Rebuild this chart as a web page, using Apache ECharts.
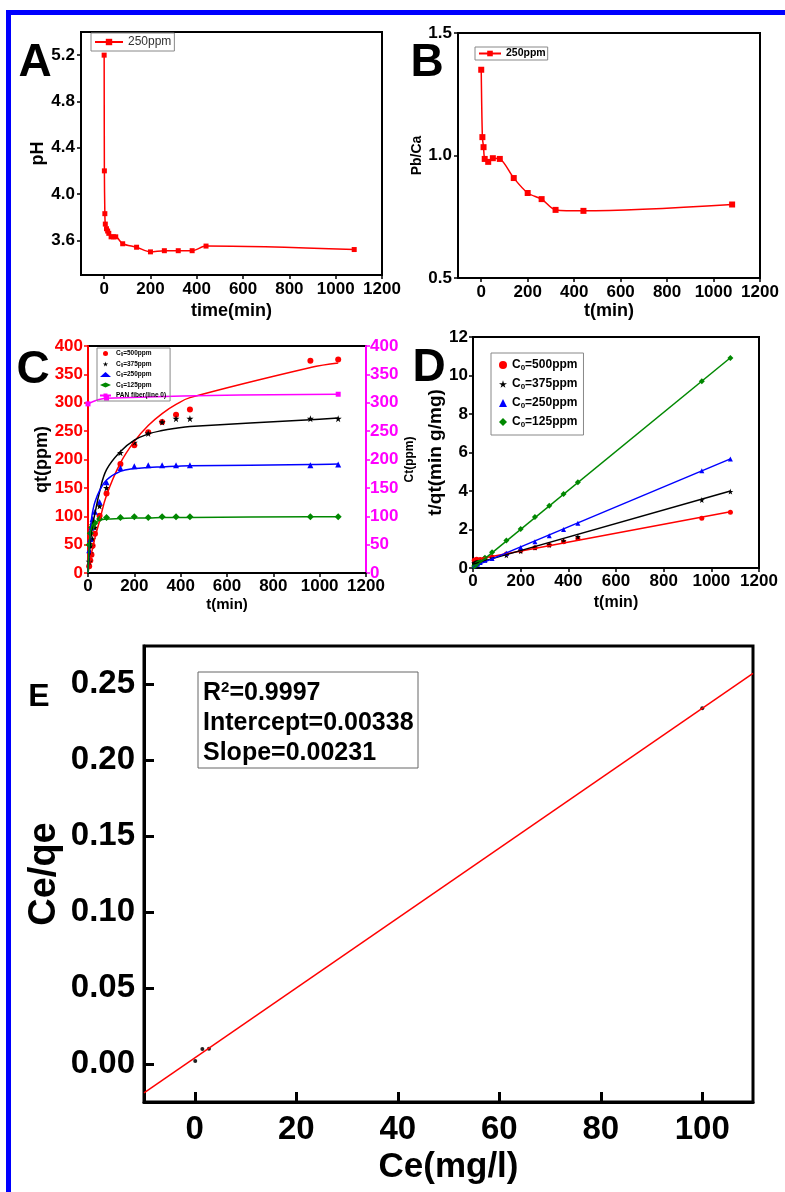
<!DOCTYPE html>
<html>
<head>
<meta charset="utf-8">
<title>Kinetics panels</title>
<script src="https://cdn.jsdelivr.net/npm/echarts@6/dist/echarts.min.js"></script>
<style>
  html, body { margin: 0; padding: 0; background: #fff; }
  #main { width: 785px; height: 1192px; }
</style>
</head>
<body>
<div id="main"></div>
<script>
var FONT = '"Liberation Sans", Arial, sans-serif';

// A: pH vs time
var timeA = [0, 1, 3, 5, 10, 15, 20, 30, 40, 50, 80, 140, 200, 260, 320, 380, 440, 1080];
var phA = [5.20, 4.20, 3.83, 3.74, 3.70, 3.68, 3.66, 3.63, 3.63, 3.63, 3.57, 3.54, 3.50, 3.51, 3.51, 3.51, 3.55, 3.52];

// B: Pb/Ca vs time
var timeB = [0, 5, 10, 15, 30, 50, 80, 140, 200, 260, 320, 440, 1080];
var pbCaB = [1.35, 1.075, 1.034, 0.986, 0.974, 0.989, 0.986, 0.908, 0.847, 0.822, 0.778, 0.774, 0.800];

// C: qt points, fitted curves, PAN fiber
var timeC = [5, 10, 15, 20, 30, 50, 80, 140, 200, 260, 320, 380, 440, 960, 1080];
var qt500 = [12, 22, 32, 48, 69, 101, 140, 192, 225, 248, 266, 279, 288, 374, 376];
var qt375 = [20, 35, 48, 60, 80, 118, 150, 212, 230, 246, 266, 272, 272, 272, 272];
var qt250 = [40, 60, 80, 95, 108, 125, 160, 185, 188, 190, 190, 190, 190, 190, 191];
var qt125 = [50, 70, 80, 85, 88, 95, 98, 98, 99, 98, 99, 99, 99, 99, 99];
var timeFit = [0, 5, 10, 15, 20, 30, 50, 80, 140, 200, 260, 320, 380, 440, 960, 1080];
var fit500 = [0, 12, 23, 34, 44, 62, 92, 137, 194, 232, 260, 281, 297, 309, 362, 370];
var fit375 = [0, 30, 52, 70, 85, 105, 143, 182, 214, 234, 245, 251, 255, 258, 270, 273];
var fit250 = [0, 45, 75, 95, 108, 125, 145, 164, 179, 184, 186, 187, 188, 189, 191, 192];
var fit125 = [0, 50, 70, 80, 85, 89, 93, 95, 96, 97, 97, 98, 98, 98, 99, 99];
var timePan = [0, 80, 1080];
var ctPan = [298, 308, 315];

// D: t/qt points and linear fits
var tq500 = [0.40, 0.42, 0.45, 0.42, 0.44, 0.50, 0.57, 0.73, 0.89, 1.05, 1.20, 1.37, 1.53, 2.58, 2.90];
var tq375 = [0.25, 0.29, 0.31, 0.33, 0.38, 0.42, 0.53, 0.66, 0.87, 1.06, 1.20, 1.40, 1.62, 3.53, 3.97];
var tq250 = [0.12, 0.17, 0.19, 0.21, 0.28, 0.40, 0.50, 0.76, 1.06, 1.37, 1.68, 2.00, 2.32, 5.05, 5.66];
var tq125 = [0.10, 0.14, 0.19, 0.24, 0.34, 0.53, 0.82, 1.43, 2.02, 2.65, 3.23, 3.84, 4.45, 9.70, 10.91];
var timeLin = [0, 1080];
var lin500 = [0.42, 2.92];
var lin375 = [0.20, 4.00];
var lin250 = [0.06, 5.67];
var lin125 = [-0.02, 10.92];

// E: Ce/qe vs Ce
var ceE = [0.1, 1.5, 2.8, 100];
var ceqeE = [0.002, 0.0099, 0.0100, 0.234];
var ceFit = [-10, 110];
var ceqeFit = [-0.019, 0.257];

// tick labels
var ticksTime = [0, 200, 400, 600, 800, 1000, 1200];
var ticksPH = [3.6, 4.0, 4.4, 4.8, 5.2];
var ticksCe = [0, 20, 40, 60, 80, 100];
var ticksCeqe = [0, 0.05, 0.10, 0.15, 0.20, 0.25];

function zip(a, b) {
    return a.map(function (v, i) { return [v, b[i]]; });
}

var STAR = 'path://M50,0 L61,35 L98,35 L68,57 L79,91 L50,70 L21,91 L32,57 L2,35 L39,35 Z';

function plain(v) { return String(v); }

function lbl(size, color, extra) {
    var o = { fontFamily: FONT, fontWeight: 'bold', fontSize: size, color: color || '#000' };
    for (var k in extra) o[k] = extra[k];
    return o;
}
function axLine(color, w) {
    return { show: true, onZero: false, lineStyle: { color: color || '#000', width: w || 2 } };
}
function tick(color, len, inside, w) {
    return { show: true, inside: !!inside, length: len, lineStyle: { color: color || '#000', width: w || 1.5 } };
}

var chart = echarts.init(document.getElementById('main'));

var sub = {
    t: { fontFamily: FONT, fontWeight: 'bold', fontSize: 12, color: '#000' },
    s: { fontFamily: FONT, fontWeight: 'bold', fontSize: 8, color: '#000', padding: [6, 0, 0, 0] }
};
var subSmall = {
    t: { fontFamily: FONT, fontWeight: 'bold', fontSize: 6.5, color: '#000' },
    s: { fontFamily: FONT, fontWeight: 'bold', fontSize: 4.5, color: '#000', padding: [3, 0, 0, 0] }
};
function c0fmt(name) {
    if (name.indexOf('C0') === 0) return '{t|C}{s|0}{t|' + name.slice(2) + '}';
    return '{t|' + name + '}';
}

var option = {
    animation: false,
    backgroundColor: '#fff',
    grid: [
        { left: 81, top: 32, width: 301, height: 243, show: true, borderColor: '#000', borderWidth: 2 },
        { left: 458, top: 33, width: 302, height: 245, show: true, borderColor: '#000', borderWidth: 2 },
        { left: 88, top: 346, width: 278, height: 227, show: true, borderColor: '#000', borderWidth: 2 },
        { left: 473, top: 337, width: 286, height: 231, show: true, borderColor: '#000', borderWidth: 2 },
        { left: 144, top: 646, width: 609, height: 456, show: true, borderColor: '#000', borderWidth: 3 }
    ],
    xAxis: [
        { gridIndex: 0, type: 'value', min: -100, max: 1200, name: 'time(min)', nameLocation: 'middle', nameGap: 27,
          nameTextStyle: lbl(18), axisLine: axLine(), splitLine: { show: false },
          axisTick: Object.assign(tick('#000', 4), { customValues: ticksTime }),
          axisLabel: Object.assign(lbl(17), { margin: 6, customValues: ticksTime, formatter: plain }) },
        { gridIndex: 1, type: 'value', min: -100, max: 1200, name: 't(min)', nameLocation: 'middle', nameGap: 22,
          nameTextStyle: lbl(18), axisLine: axLine(), splitLine: { show: false },
          axisTick: Object.assign(tick('#000', 4), { customValues: ticksTime }),
          axisLabel: Object.assign(lbl(17), { margin: 6, customValues: ticksTime, formatter: plain }) },
        { gridIndex: 2, type: 'value', min: 0, max: 1200, interval: 200, name: 't(min)', nameLocation: 'middle', nameGap: 24,
          nameTextStyle: lbl(15), axisLine: axLine(), splitLine: { show: false },
          axisTick: tick('#000', 4), axisLabel: Object.assign(lbl(17), { margin: 5, formatter: plain }) },
        { gridIndex: 3, type: 'value', min: 0, max: 1200, interval: 200, name: 't(min)', nameLocation: 'middle', nameGap: 27,
          nameTextStyle: lbl(16), axisLine: axLine(), splitLine: { show: false },
          axisTick: tick('#000', 4), axisLabel: Object.assign(lbl(17), { margin: 5, formatter: plain }) },
        { gridIndex: 4, type: 'value', min: -10, max: 110, name: 'Ce(mg/l)', nameLocation: 'middle', nameGap: 48,
          nameTextStyle: lbl(35), axisLine: axLine('#000', 3), splitLine: { show: false },
          axisTick: Object.assign(tick('#000', 10, true, 3), { customValues: ticksCe }),
          axisLabel: Object.assign(lbl(33), { margin: 11, customValues: ticksCe, formatter: plain }) }
    ],
    yAxis: [
        { gridIndex: 0, type: 'value', min: 3.3, max: 5.4, name: 'pH', nameLocation: 'middle', nameGap: 28,
          nameTextStyle: lbl(18), axisLine: axLine(), splitLine: { show: false },
          axisTick: Object.assign(tick('#000', 4), { customValues: ticksPH }),
          axisLabel: Object.assign(lbl(17), { margin: 6, customValues: ticksPH,
              formatter: function (v) { return v.toFixed(1); } }) },
        { gridIndex: 1, type: 'value', min: 0.5, max: 1.5, interval: 0.5, name: 'Pb/Ca', nameLocation: 'middle', nameGap: 31,
          nameTextStyle: lbl(14), axisLine: axLine(), splitLine: { show: false },
          axisTick: tick('#000', 4),
          axisLabel: Object.assign(lbl(17), { margin: 6, formatter: function (v) { return v.toFixed(1); } }) },
        { gridIndex: 2, type: 'value', min: 0, max: 400, interval: 50, name: 'qt(ppm)', nameLocation: 'middle', nameGap: 34,
          nameTextStyle: lbl(18), axisLine: axLine('#f00'), splitLine: { show: false },
          axisTick: tick('#f00', 4), axisLabel: Object.assign(lbl(17, '#f00'), { margin: 5 }) },
        { gridIndex: 2, type: 'value', position: 'right', min: 0, max: 400, interval: 50, name: 'Ct(ppm)',
          nameLocation: 'middle', nameGap: 38, nameRotate: 90,
          nameTextStyle: lbl(12), axisLine: axLine('#f0f'), splitLine: { show: false },
          axisTick: tick('#f0f', 4), axisLabel: Object.assign(lbl(17, '#f0f'), { margin: 4 }) },
        { gridIndex: 3, type: 'value', min: 0, max: 12, interval: 2, name: 't/qt(min g/mg)', nameLocation: 'middle', nameGap: 23,
          nameTextStyle: lbl(19), axisLine: axLine(), splitLine: { show: false },
          axisTick: tick('#000', 4), axisLabel: Object.assign(lbl(17), { margin: 5 }) },
        { gridIndex: 4, type: 'value', min: -0.025, max: 0.275, name: 'Ce/qe', nameLocation: 'middle', nameGap: 80,
          nameMoveOverlap: false,
          nameTextStyle: lbl(38), axisLine: axLine('#000', 3), splitLine: { show: false },
          axisTick: Object.assign(tick('#000', 10, true, 3), { customValues: ticksCeqe }),
          axisLabel: Object.assign(lbl(33), { margin: 9, customValues: ticksCeqe,
              formatter: function (v) { return v.toFixed(2); } }) }
    ],
    legend: [
        { data: ['250ppm'], left: 91, top: 33, padding: [3, 3, 3, 3], itemWidth: 28, itemHeight: 8,
          borderColor: '#888', borderWidth: 1, textStyle: { fontFamily: FONT, fontSize: 12, color: '#333' } },
        { data: ['250ppm'], left: 475, top: 47, padding: [1, 2, 1, 3], itemWidth: 22, itemHeight: 7,
          borderColor: '#888', borderWidth: 1, textStyle: lbl(10.5) },
        { data: ['C0=500ppm', 'C0=375ppm', 'C0=250ppm', 'C0=125ppm', 'PAN fiber(line 0)'], orient: 'vertical',
          left: 97, top: 348, padding: [2, 4, 2, 2], itemWidth: 11, itemHeight: 5, itemGap: 3,
          borderColor: '#888', borderWidth: 1, formatter: c0fmt, textStyle: { rich: subSmall } },
        { data: ['C0=500ppm', 'C0=375ppm', 'C0=250ppm', 'C0=125ppm'], orient: 'vertical',
          left: 491, top: 353, padding: [6, 6, 6, 8], itemWidth: 8, itemHeight: 8, itemGap: 6,
          borderColor: '#888', borderWidth: 1, formatter: c0fmt, textStyle: { rich: sub } }
    ],
    graphic: [
        { type: 'rect', shape: { x: 6, y: 10, width: 779, height: 5 }, style: { fill: '#0000ff' } },
        { type: 'rect', shape: { x: 6, y: 10, width: 5, height: 1182 }, style: { fill: '#0000ff' } },
        { type: 'text', x: 35, y: 63, style: { text: 'A', font: 'bold 46px ' + FONT, fill: '#000', align: 'center', verticalAlign: 'middle' } },
        { type: 'text', x: 427, y: 63, style: { text: 'B', font: 'bold 46px ' + FONT, fill: '#000', align: 'center', verticalAlign: 'middle' } },
        { type: 'text', x: 33, y: 370, style: { text: 'C', font: 'bold 46px ' + FONT, fill: '#000', align: 'center', verticalAlign: 'middle' } },
        { type: 'text', x: 429, y: 368, style: { text: 'D', font: 'bold 46px ' + FONT, fill: '#000', align: 'center', verticalAlign: 'middle' } },
        { type: 'text', x: 39, y: 697, style: { text: 'E', font: 'bold 32px ' + FONT, fill: '#000', align: 'center', verticalAlign: 'middle' } },
        { type: 'rect', z: 50, shape: { x: 198, y: 672, width: 220, height: 96 }, style: { fill: '#fff', stroke: '#666', lineWidth: 1 } },
        { type: 'text', z: 51, x: 203, y: 693, style: { text: '{a|R}{b|2}{a|=0.9997}', verticalAlign: 'middle',
            rich: { a: { font: 'bold 25px ' + FONT, fill: '#000' }, b: { font: 'bold 15px ' + FONT, fill: '#000', padding: [0, 0, 10, 0] } } } },
        { type: 'text', z: 51, x: 203, y: 723, style: { text: 'Intercept=0.00338', font: 'bold 25px ' + FONT, fill: '#000', verticalAlign: 'middle' } },
        { type: 'text', z: 51, x: 203, y: 753, style: { text: 'Slope=0.00231', font: 'bold 25px ' + FONT, fill: '#000', verticalAlign: 'middle' } }
    ],
    series: [
        // A
        { name: '250ppm', type: 'line', xAxisIndex: 0, yAxisIndex: 0, data: zip(timeA, phA), smooth: 0.3,
          symbol: 'rect', symbolSize: 5, lineStyle: { color: '#f00', width: 1.5 }, itemStyle: { color: '#f00' } },
        // B
        { name: '250ppm', type: 'line', xAxisIndex: 1, yAxisIndex: 1, data: zip(timeB, pbCaB), smooth: 0.3,
          symbol: 'rect', symbolSize: 6, lineStyle: { color: '#f00', width: 1.5 }, itemStyle: { color: '#f00' } },
        // C fits
        { name: 'fit500', type: 'line', xAxisIndex: 2, yAxisIndex: 2, data: zip(timeFit, fit500), smooth: 0.4,
          showSymbol: false, lineStyle: { color: '#f00', width: 1.5 } },
        { name: 'fit375', type: 'line', xAxisIndex: 2, yAxisIndex: 2, data: zip(timeFit, fit375), smooth: 0.4,
          showSymbol: false, lineStyle: { color: '#000', width: 1.5 } },
        { name: 'fit250', type: 'line', xAxisIndex: 2, yAxisIndex: 2, data: zip(timeFit, fit250), smooth: 0.4,
          showSymbol: false, lineStyle: { color: '#00f', width: 1.5 } },
        { name: 'fit125', type: 'line', xAxisIndex: 2, yAxisIndex: 2, data: zip(timeFit, fit125), smooth: 0.4,
          showSymbol: false, lineStyle: { color: '#080', width: 1.5 } },
        { name: 'PAN fiber(line 0)', type: 'line', xAxisIndex: 2, yAxisIndex: 3, data: zip(timePan, ctPan), smooth: 0.4,
          symbol: 'rect', symbolSize: 5, lineStyle: { color: '#f0f', width: 1.5 }, itemStyle: { color: '#f0f' } },
        // C points
        { name: 'C0=500ppm', type: 'scatter', xAxisIndex: 2, yAxisIndex: 2, data: zip(timeC, qt500),
          symbol: 'circle', symbolSize: 6, itemStyle: { color: '#f00', opacity: 1 } },
        { name: 'C0=375ppm', type: 'scatter', xAxisIndex: 2, yAxisIndex: 2, data: zip(timeC, qt375),
          symbol: STAR, symbolSize: 7, itemStyle: { color: '#000', opacity: 1 } },
        { name: 'C0=250ppm', type: 'scatter', xAxisIndex: 2, yAxisIndex: 2, data: zip(timeC, qt250),
          symbol: 'triangle', symbolSize: 6, itemStyle: { color: '#00f', opacity: 1 } },
        { name: 'C0=125ppm', type: 'scatter', xAxisIndex: 2, yAxisIndex: 2, data: zip(timeC, qt125),
          symbol: 'diamond', symbolSize: 7, itemStyle: { color: '#080', opacity: 1 } },
        // D lines
        { name: 'lin500', type: 'line', xAxisIndex: 3, yAxisIndex: 4, data: zip(timeLin, lin500), showSymbol: false, lineStyle: { color: '#f00', width: 1.5 } },
        { name: 'lin375', type: 'line', xAxisIndex: 3, yAxisIndex: 4, data: zip(timeLin, lin375), showSymbol: false, lineStyle: { color: '#000', width: 1.5 } },
        { name: 'lin250', type: 'line', xAxisIndex: 3, yAxisIndex: 4, data: zip(timeLin, lin250), showSymbol: false, lineStyle: { color: '#00f', width: 1.5 } },
        { name: 'lin125', type: 'line', xAxisIndex: 3, yAxisIndex: 4, data: zip(timeLin, lin125), showSymbol: false, lineStyle: { color: '#080', width: 1.5 } },
        // D points
        { name: 'C0=500ppm', type: 'scatter', xAxisIndex: 3, yAxisIndex: 4, data: zip(timeC, tq500),
          symbol: 'circle', symbolSize: 5, itemStyle: { color: '#f00', opacity: 1 } },
        { name: 'C0=375ppm', type: 'scatter', xAxisIndex: 3, yAxisIndex: 4, data: zip(timeC, tq375),
          symbol: STAR, symbolSize: 6, itemStyle: { color: '#000', opacity: 1 } },
        { name: 'C0=250ppm', type: 'scatter', xAxisIndex: 3, yAxisIndex: 4, data: zip(timeC, tq250),
          symbol: 'triangle', symbolSize: 5, itemStyle: { color: '#00f', opacity: 1 } },
        { name: 'C0=125ppm', type: 'scatter', xAxisIndex: 3, yAxisIndex: 4, data: zip(timeC, tq125),
          symbol: 'diamond', symbolSize: 6, itemStyle: { color: '#080', opacity: 1 } },
        // E
        { name: 'fitE', type: 'line', xAxisIndex: 4, yAxisIndex: 5, data: zip(ceFit, ceqeFit), showSymbol: false,
          lineStyle: { color: '#f00', width: 1.5 } },
        { name: 'pointsE', type: 'scatter', xAxisIndex: 4, yAxisIndex: 5, data: zip(ceE, ceqeE),
          symbol: 'circle', symbolSize: 4, itemStyle: { color: '#222', opacity: 1 } }
    ]
};

chart.setOption(option);
</script>
</body>
</html>
